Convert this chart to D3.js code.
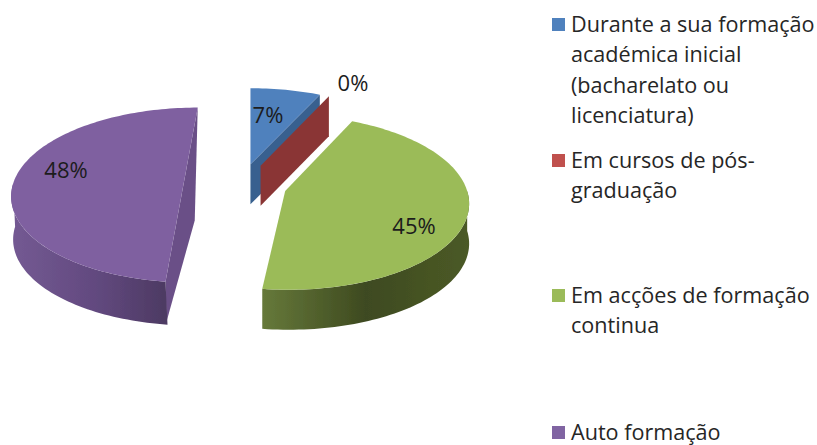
<!DOCTYPE html>
<html><head><meta charset="utf-8">
<script src="https://cdn.jsdelivr.net/npm/d3@7"></script>
<style>html,body{margin:0;padding:0;background:#fff}svg{display:block}</style>
</head><body><svg id="c" width="817" height="445"></svg>
<script>
const categories = ["Durante a sua formação académica inicial (bacharelato ou licenciatura)","Em cursos de pós-graduação","Em acções de formação continua","Auto formação"];
const values = [7, 0, 45, 48];
const valueLabels = ["7%","0%","45%","48%"];
const legendLines = [["Durante a sua formação","académica inicial","(bacharelato ou","licenciatura)"],["Em cursos de pós-","graduação"],["Em acções de formação","continua"],["Auto formação"]];
const topColors = ["#4f81bd","#c0504d","#9bbb59","#7f60a0"];
const faceColors = ["#38618f","#8a3634","#66793a","#6b5087"];
const sideStops = [null,null,["#66793a","#3e4a20","#4b5a26"],["#745a93","#62497f","#4d3a63"]];

const W=817,H=445, CX=241, CY=185, RX=182, RY=86, PERSP=0.13, EXPLODE=46, EY=0.46, DEPTH=40, SHIFT=0.5;
const svg=d3.select("#c");
const defs=svg.append("defs");
const blur=defs.append("filter").attr("id","soft").attr("x","-5%").attr("y","-5%").attr("width","110%").attr("height","110%");
blur.append("feGaussianBlur").attr("stdDeviation",0.6);
const g=svg.append("g").attr("filter","url(#soft)");

const arcs=d3.pie().sort(null).value(d=>d)(values);
const line=d3.line();
const proj=(c,t,d=0)=>{const u=Math.sin(t),v=Math.cos(t),w=1+PERSP*v;
  const ox=(c[0]-CX)*(1+SHIFT*(1/w-1));
  return [CX+ox+RX*u/w,c[1]-RY*v/w+d];};
const centre=a=>{const m=(a.startAngle+a.endAngle)/2;return [CX+EXPLODE*Math.sin(m),CY-EXPLODE*EY*Math.cos(m)];};
const rim=(c,a0,a1,d=0)=>{const n=Math.max(2,Math.ceil((a1-a0)*40));return d3.range(n+1).map(i=>proj(c,a0+(a1-a0)*i/n,d));};

// side gradients
[2,3].forEach(i=>{
  const c=centre(arcs[i]);
  const [a0,a1]= i===2?[Math.PI/2,arcs[i].endAngle]:[arcs[i].startAngle,1.5*Math.PI];
  const xs=rim(c,a0,a1).map(p=>p[0]);
  const lg=defs.append("linearGradient").attr("id","side"+i).attr("gradientUnits","userSpaceOnUse")
    .attr("x1",d3.min(xs)).attr("x2",d3.max(xs)).attr("y1",0).attr("y2",0);
  const st= i===2?[0,0.5,1]:[0,0.55,1];
  sideStops[i].forEach((col,k)=>lg.append("stop").attr("offset",st[k]).attr("stop-color",col));
});

// purple
{const a=arcs[3],c=centre(a);
 const apex=proj(c,a.startAngle),tip=proj(c,a.endAngle);
 g.append("path").attr("fill",faceColors[3]).attr("d",line([apex,tip,[tip[0]-3,tip[1]+113],[apex[0]+1,apex[1]+DEPTH]])+"Z");
 const s=rim(c,a.startAngle,1.5*Math.PI);
 g.append("path").attr("fill","url(#side3)").attr("d",line(s.concat(s.slice().reverse().map(p=>[p[0]+2,p[1]+DEPTH+3])))+"Z");
 g.append("path").attr("fill",topColors[3]).attr("d",line(rim(c,a.startAngle,a.endAngle))+"Z");
}
// blue
{const a=arcs[0],c=centre(a);
 const r=rim(c,a.startAngle,a.endAngle),tip=r[r.length-1],o=proj(c,a.startAngle);
 const m=[o[0],c[1]];
 g.append("path").attr("fill",faceColors[0]).attr("d",line([m,tip,[tip[0],tip[1]+DEPTH],[m[0],m[1]+DEPTH]])+"Z");
 g.append("path").attr("fill",topColors[0]).attr("d",line([m].concat(r))+"Z");
}
// red: zero-width slice, only its cut face is visible
{const a=arcs[1],c=centre(a),tip=proj(c,a.startAngle);
 g.append("path").attr("fill",faceColors[1]).attr("d",line([c,tip,[tip[0],tip[1]+DEPTH],[c[0],c[1]+DEPTH]])+"Z");
}
// green
{const a=arcs[2],c=centre(a);
 const s=rim(c,Math.PI/2,a.endAngle);
 g.append("path").attr("fill","url(#side2)").attr("d",line(s.concat(s.slice().reverse().map(p=>[p[0],p[1]+DEPTH])))+"Z");
 g.append("path").attr("fill",topColors[2]).attr("d",line([c].concat(rim(c,a.startAngle,a.endAngle)))+"Z");
}

// data labels
const FONT='"Open Sans","Noto Sans",sans-serif';
const labelPos=[[268,114],[353,82],[414,225],[66,169]];
svg.append("g").selectAll("text").data(valueLabels).join("text")
  .attr("x",(d,i)=>labelPos[i][0]).attr("y",(d,i)=>labelPos[i][1])
  .attr("text-anchor","middle").attr("dominant-baseline","central")
  .attr("font-family",FONT).attr("font-size",22).attr("fill","#1c1c1c").text(d=>d);

// legend
const legendTop=[32,168,303,440], LH=30.3;
const swatch=["#4f81bd","#c0504d","#9bbb59","#8064a2"];
const lg=svg.append("g");
legendLines.forEach((ls,i)=>{
  lg.append("rect").attr("x",552).attr("y",legendTop[i]-14).attr("width",13).attr("height",13).attr("fill",swatch[i]);
  ls.forEach((t,k)=>lg.append("text").attr("x",571).attr("y",legendTop[i]+k*LH)
    .attr("font-family",FONT).attr("font-size",21.6).attr("fill","#262626").text(t));
});
</script></body></html>
